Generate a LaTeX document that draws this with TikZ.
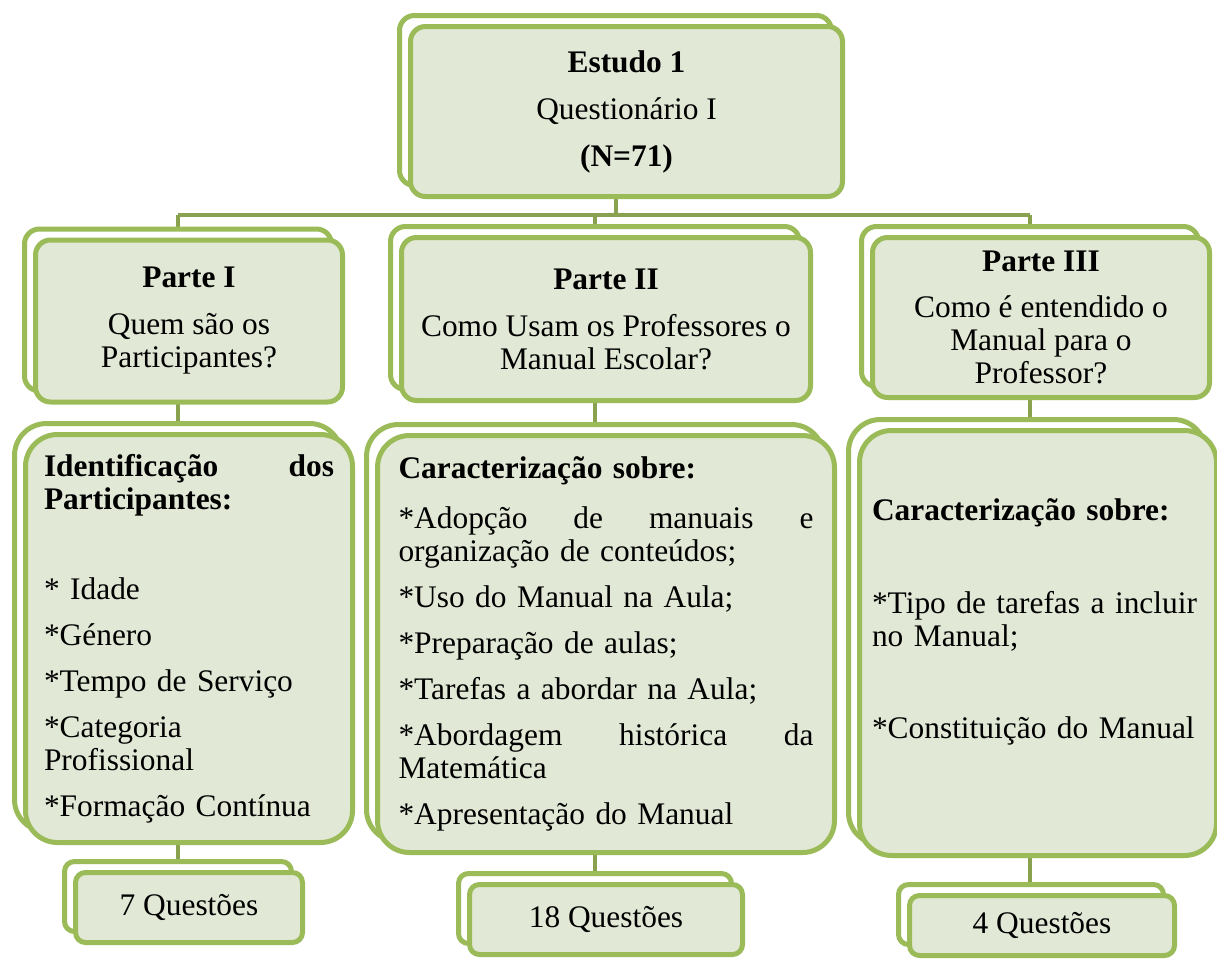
\documentclass[tikz,border=0pt]{standalone}
\usepackage{fontspec}
\setmainfont{Liberation Serif}
\usepackage{tikz}
\usetikzlibrary{positioning,calc,shadows,backgrounds}
\definecolor{leaf}{HTML}{9BBB59}
\definecolor{sage}{HTML}{E1E8D5}
\definecolor{stem}{HTML}{8AA24F}

\begin{document}
\begin{tikzpicture}[x=0.5pt, y=-0.5pt,
  every node/.style={font=\fontsize{15.7pt}{16.5pt}\selectfont},
  card/.style={draw=leaf, line width=2.5pt, fill=sage, rounded corners=7.5pt, inner sep=2pt, align=center,
    copy shadow={shadow xshift=-5.5pt, shadow yshift=5.5pt, fill=white, draw=leaf, line width=2.5pt}},
  bigcard/.style={card, rounded corners=16pt, align=left},
  link/.style={draw=stem, line width=2pt}]
\useasboundingbox (0,0) rectangle (1217,960);

% study and its three parts
\node[card, minimum width=216pt, minimum height=85pt] (top) at (626.5,111.5)
  {\textbf{Estudo 1}\\[7pt] Questionário I\\[7pt] \textbf{(N=71)}};
\node[card, minimum width=153.5pt, minimum height=81pt] (p1) at (189,321)
  {\textbf{Parte I}\\[7pt] Quem são os\\ Participantes?};
\node[card, minimum width=204.5pt, minimum height=81.5pt] (p2) at (606,319)
  {\textbf{Parte II}\\[7pt] Como Usam os Professores o\\ Manual Escolar?};
\node[card, minimum width=168.5pt, minimum height=80pt] (p3) at (1041,317.5)
  {\textbf{Parte III}\\[6.5pt] Como é entendido o\\ Manual para o\\ Professor?};

% contents of each part
\node[bigcard, text width=145pt, minimum width=163.5pt, minimum height=204pt] (c1) at (189,638.5)
  {\textbf{Identificação\hfill dos}\\ \textbf{Participantes:}\\[28.5pt]
   * Idade\\[6.5pt] *Género\\[6.5pt] *Tempo de Serviço\\[6.5pt] *Categoria\\ Profissional\\[6.5pt]
   *Formação Contínua};
\node[bigcard, text width=207.5pt, minimum width=228.5pt, minimum height=208.5pt] (c2) at (606,644)
  {\textbf{Caracterização sobre:}\\[8.5pt]
   *Adopção\hfill de\hfill manuais\hfill e\\ organização de conteúdos;\\[6.5pt]
   *Uso do Manual na Aula;\\[6.5pt] *Preparação de aulas;\\[6.5pt] *Tarefas a abordar na Aula;\\[6.5pt]
   *Abordagem\hfill histórica\hfill da\\ Matemática\\[6.5pt] *Apresentação do Manual};
\node[bigcard, text width=166pt, minimum width=178.5pt, minimum height=212.5pt] (c3) at (1038,643)
  {\textbf{Caracterização sobre:}\\[30pt]
   *Tipo de tarefas a incluir\\ no Manual;\\[29.5pt] *Constituição do Manual\\[7.5pt]\mbox{}};

% number of questions
\node[card, rounded corners=5pt, minimum width=113.5pt, minimum height=35pt] (q1) at (189,907.5) {7 Questões};
\node[card, rounded corners=5pt, minimum width=136.5pt, minimum height=35pt] (q2) at (606,919.5) {18 Questões};
\node[card, rounded corners=5pt, minimum width=132.5pt, minimum height=30pt] (q3) at (1042,925.5) {4 Questões};

\foreach \n in {top,p1,p2,p3,q1,q2,q3}
  \coordinate (\n-b) at ([xshift=-5.5pt]\n.center);
\coordinate (bus) at (616,215);

\begin{scope}[on background layer]
\draw[link] (top-b) -- (top-b |- bus);
\draw[link] (p1-b |- bus) -- (p3-b |- bus);
\draw[link] (p1-b |- bus) -- (q1-b);
\draw[link] (p2-b |- bus) -- (q2-b);
\draw[link] (p3-b |- bus) -- (p3-b |- q3-b);
\end{scope}
\end{tikzpicture}
\end{document}
